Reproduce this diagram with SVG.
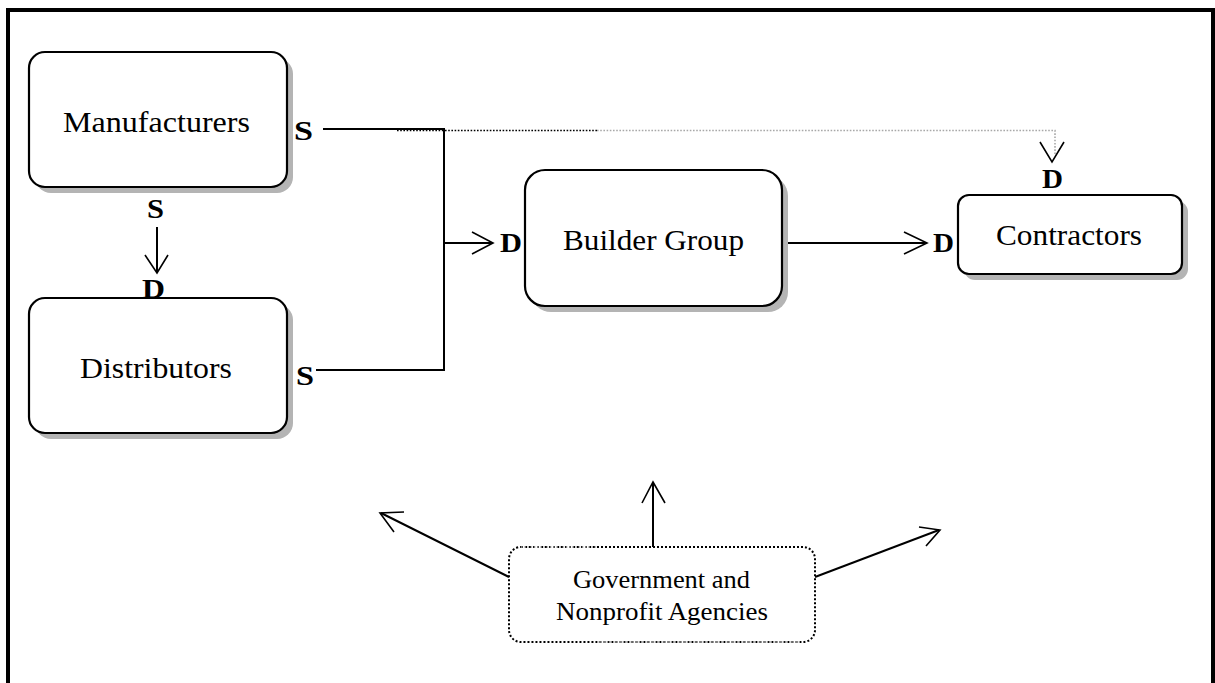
<svg xmlns="http://www.w3.org/2000/svg" width="1215" height="683" viewBox="0 0 1215 683">
  <style>
    .shadow { fill: #b4b4b4; stroke: none; }
    .box { fill: #ffffff; stroke: #000000; stroke-width: 2.2; }
    .label { font-family: "Liberation Serif", "Times New Roman", serif; font-size: 29px; fill: #000000; }
    .small { font-family: "Liberation Serif", "Times New Roman", serif; font-size: 26px; fill: #000000; }
    .port { font-family: "Liberation Serif", "Times New Roman", serif; font-size: 28px; font-weight: bold; fill: #000000; }
    .wire { fill: none; stroke: #000000; stroke-width: 2; }
    .head { fill: none; stroke: #000000; stroke-width: 1.6; stroke-linejoin: miter; }
    .dot-dark { fill: none; stroke: #000000; stroke-width: 1.6; stroke-dasharray: 1.6 1.6; }
    .dot-light { fill: none; stroke: #a8a8a8; stroke-width: 1.6; stroke-dasharray: 1.6 1.6; }
  </style>

  <rect width="1215" height="683" fill="#ffffff"/>

  <!-- page frame, open at the bottom -->
  <path d="M8,683 V10 H1213 V683" fill="none" stroke="#000000" stroke-width="4"/>

  <!-- connectors -->
  <g id="connectors">
    <!-- supply bus to Builder Group -->
    <path class="wire" d="M323,129 H444 V370 H316"/>
    <path class="wire" d="M444,243 H492"/>
    <path class="head" d="M472,232 L493,243 L472,254"/>

    <!-- Manufacturers to Distributors -->
    <path class="wire" d="M157,227 V272"/>
    <path class="head" d="M145,255 L157,273 L168,255"/>

    <!-- Builder Group to Contractors -->
    <path class="wire" d="M782,243 H926"/>
    <path class="head" d="M904,232 L927,243 L904,254"/>

    <!-- Manufacturers to Contractors (indirect) -->
    <path class="dot-dark" d="M397,130.5 H597"/>
    <path class="dot-light" d="M597,130.5 H1055 V154"/>
    <path class="head" d="M1040,142 L1052,162 L1064,142"/>

    <!-- influence of Government and Nonprofit Agencies -->
    <path class="wire" d="M653,547 V483"/>
    <path class="head" d="M642,503 L653,482 L665,503"/>
    <path class="wire" d="M509,577 L381,513"/>
    <path class="head" d="M404,512 L380,513 L394,532"/>
    <path class="wire" d="M815,577 L939,530"/>
    <path class="head" d="M919,527 L940,530 L926,546"/>
  </g>

  <!-- nodes -->
  <g id="manufacturers">
    <rect class="shadow" x="35" y="58" width="258" height="135" rx="16"/>
    <rect class="box" x="29" y="52" width="258" height="135" rx="16"/>
    <text class="label" x="63" y="132" textLength="187" lengthAdjust="spacingAndGlyphs">Manufacturers</text>
    <text class="port" x="294" y="140" textLength="19" lengthAdjust="spacingAndGlyphs">S</text>
    <text class="port" x="147" y="218" textLength="17" lengthAdjust="spacingAndGlyphs">S</text>
  </g>

  <g id="distributors">
    <rect class="shadow" x="35" y="304" width="258" height="135" rx="16"/>
    <rect class="box" x="29" y="298" width="258" height="135" rx="16"/>
    <text class="label" x="80" y="378" textLength="152" lengthAdjust="spacingAndGlyphs">Distributors</text>
    <text class="port" x="142" y="298" textLength="23" lengthAdjust="spacingAndGlyphs">D</text>
    <text class="port" x="296" y="385" textLength="18" lengthAdjust="spacingAndGlyphs">S</text>
  </g>

  <g id="builder-group">
    <rect class="shadow" x="531" y="176" width="257" height="136" rx="20"/>
    <rect class="box" x="525" y="170" width="257" height="136" rx="20"/>
    <text class="label" x="563" y="250" textLength="181" lengthAdjust="spacingAndGlyphs">Builder Group</text>
    <text class="port" x="500" y="252" textLength="22" lengthAdjust="spacingAndGlyphs">D</text>
  </g>

  <g id="contractors">
    <rect class="shadow" x="964" y="201" width="224" height="79" rx="11"/>
    <rect class="box" x="958" y="195" width="224" height="79" rx="11"/>
    <text class="label" x="996" y="245" textLength="146" lengthAdjust="spacingAndGlyphs">Contractors</text>
    <text class="port" x="933" y="252" textLength="21" lengthAdjust="spacingAndGlyphs">D</text>
    <text class="port" x="1042" y="188" textLength="21" lengthAdjust="spacingAndGlyphs">D</text>
  </g>

  <g id="government-nonprofit">
    <rect x="509" y="547" width="306" height="95" rx="12" fill="#ffffff" stroke="#000000" stroke-width="2" stroke-dasharray="2 2"/>
    <!-- lighter runs of the dotted outline -->
    <path class="dot-light" d="M521,547 H597" stroke-width="2.2"/>
    <path class="dot-light" d="M597,642 H800" stroke-width="2.2"/>
    <text class="small" x="573" y="588" textLength="177" lengthAdjust="spacingAndGlyphs">Government and</text>
    <text class="small" x="556" y="620" textLength="212" lengthAdjust="spacingAndGlyphs">Nonprofit Agencies</text>
  </g>
</svg>
